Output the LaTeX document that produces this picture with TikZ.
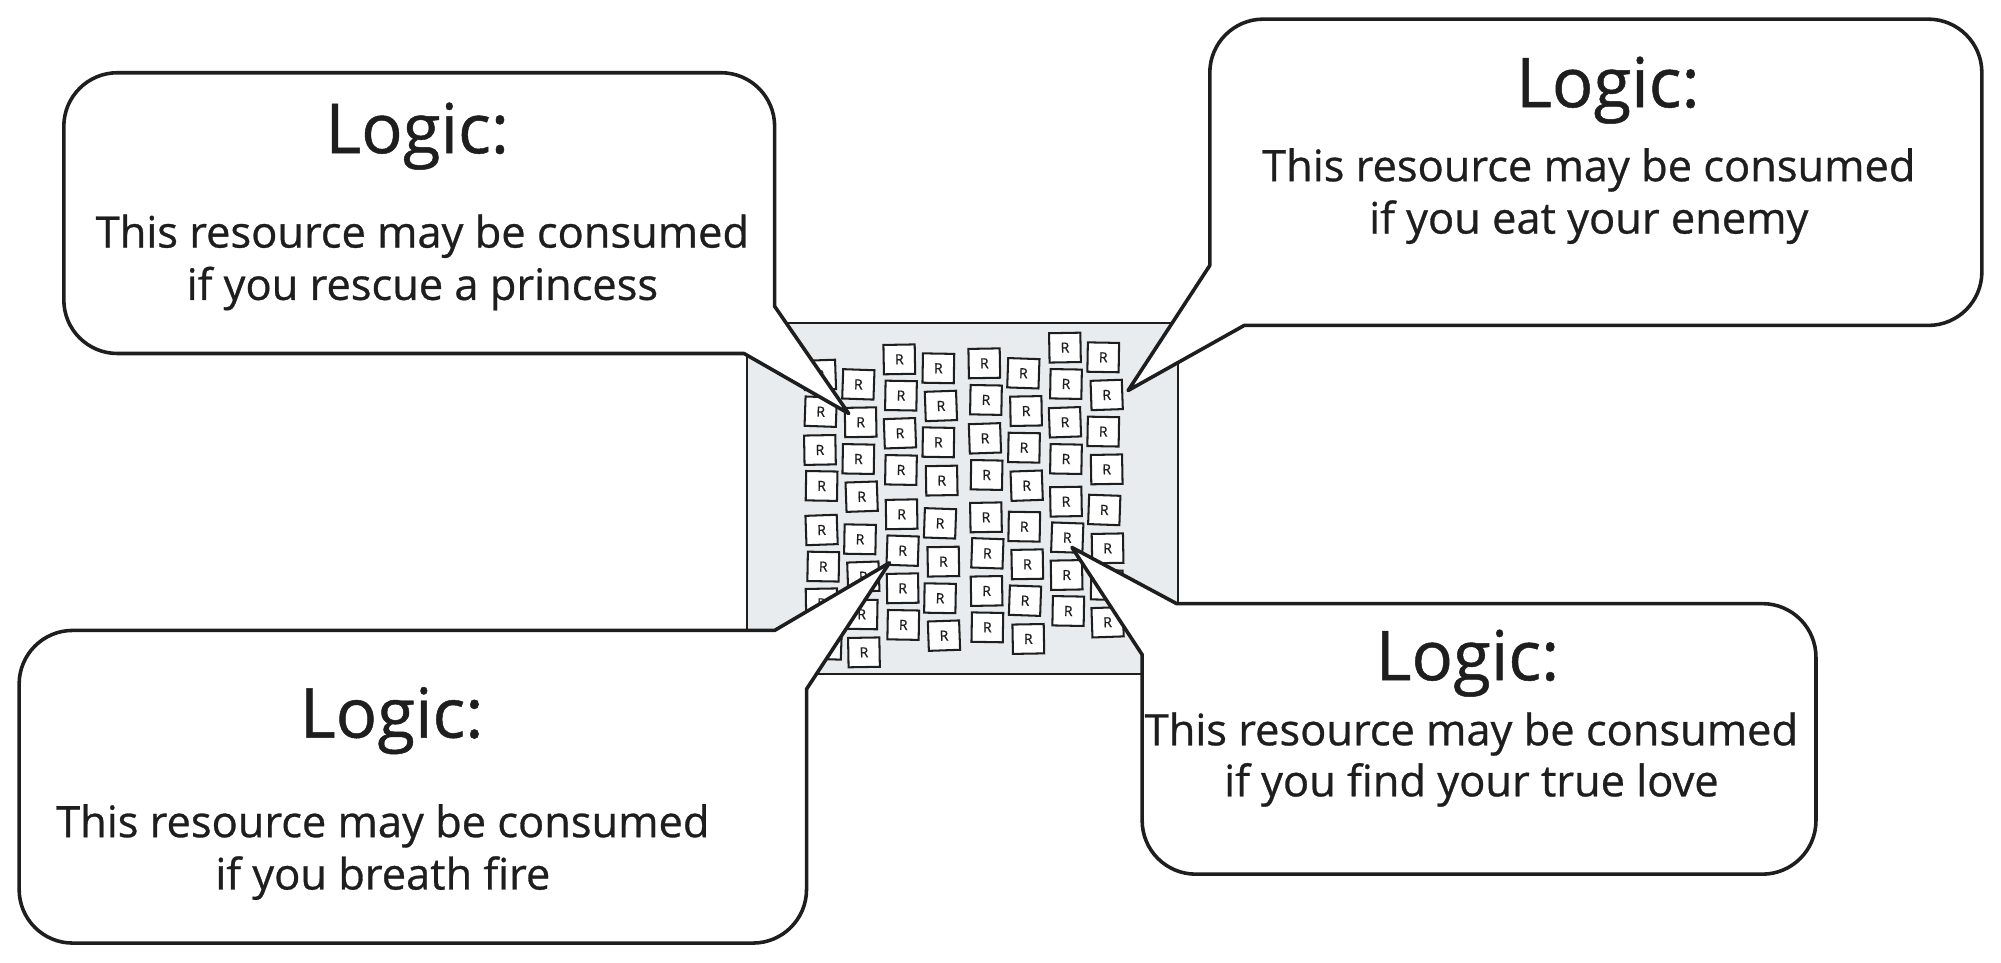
\documentclass[tikz,border=0pt]{standalone}
\usepackage{fontspec}
\setmainfont{Open Sans}[FakeBold=0.7]
\definecolor{ink}{HTML}{1E1E1E}
\definecolor{panel}{HTML}{E9ECEF}
\begin{document}
\begin{tikzpicture}[x=1pt,y=-1pt,
  bubble/.style={draw=ink, fill=white, line width=2.8pt, line join=round},
  rbox/.style={draw=ink, fill=white, line width=1.6pt, minimum width=24.5pt, minimum height=23pt, inner sep=0pt, text=ink, font=\fontsize{11}{11}\selectfont},
  title/.style={font=\fontsize{54}{54}\selectfont, text=ink, anchor=base},
  body/.style={font=\fontsize{34}{34}\selectfont, text=ink, anchor=base}]
\useasboundingbox (0,0) rectangle (1568,754);

% central panel
\draw[fill=panel, draw=ink, line width=1.6pt] (585,253) rectangle (923,528);

% resource boxes
\foreach \x/\y/\a [count=\i] in {
 642.5/293.8/2, 643.1/322.6/-2, 642.5/352.6/1, 643.8/380.8/-1, 643.8/415.3/2, 645.1/444.0/-1, 643.8/472.8/1, 647/505/-2,
 672.6/301.2/-2, 674.4/330.9/1, 672.6/359.7/-1, 675.2/389.2/2, 673.9/422.6/-1, 676.5/451.9/2, 675.2/481.4/-1, 677.0/511.2/1,
 704.7/281.6/1, 706.0/310.0/-1, 705.2/339.5/2, 706.0/368.3/-1, 706.5/403.0/1, 707.3/431.5/-2, 707.3/461.0/1, 707.8/489.7/-1,
 735.3/288.6/-1, 737.3/318.1/2, 735.3/346.6/-1, 737.9/376.6/1, 736.6/410.1/-2, 739.2/440.1/1, 736.6/468.8/-1, 739.7/498.1/2,
 771.3/284.7/1, 772.6/313.4/-1, 771.8/343.5/2, 773.1/372.2/-1, 772.6/405.4/1, 773.7/433.6/-2, 773.1/463.1/1, 773.7/491.6/-1,
 801.9/292.5/-2, 804.0/322.1/1, 802.4/350.8/-1, 804.5/380.6/2, 802.6/412.7/-1, 805.0/442.2/1, 803.2/470.7/-2, 805.8/500.7/1,
 834.5/272.4/1, 835.3/300.9/-1, 834.5/330.9/2, 835.3/359.7/-1, 835.3/393.1/1, 836.3/421.3/-2, 835.8/450.6/1, 837.1/478.8/-1,
 864.5/280.0/-1, 867.2/309.5/2, 864.5/338.2/-1, 867.2/367.8/1, 865.3/399.6/-2, 867.9/429.7/1, 867.2/458.4/-1, 867.9/487.6/2}
 \node[rbox, rotate=\a] (r\i) at (\x,\y) {R};

% tail tips
\coordinate (tipTL) at (665,324);
\coordinate (tipTR) at (884,306);
\coordinate (tipBL) at (697,441);
\coordinate (tipBR) at (840,429);

% top-left bubble
\draw[bubble] (607,240) -- (607,99) arc(0:-90:42) -- (92,57) arc(-90:-180:42)
  -- (50,235) arc(180:90:42) -- (583,277) -- (tipTL) -- cycle;
% top-right bubble
\draw[bubble] (975,255) -- (1511,255) arc(90:0:42) -- (1553,57) arc(0:-90:42)
  -- (990,15) arc(-90:-180:42) -- (948,208) -- (tipTR) -- cycle;
% bottom-left bubble
\draw[bubble] (607,494) -- (57,494) arc(-90:-180:42) -- (15,697) arc(180:90:42)
  -- (590,739) arc(90:0:42) -- (632,540) -- (tipBL) -- cycle;
% bottom-right bubble
\draw[bubble] (922,473) -- (1381,473) arc(-90:0:42) -- (1423,643) arc(0:90:42)
  -- (937,685) arc(90:180:42) -- (895,513) -- (tipBR) -- cycle;

% texts
\node[title] (tl0) at (327,120) {Logic:};
\node[body]  (tl1) at (331,194) {This resource may be consumed};
\node[body]  (tl2) at (331,235) {if you rescue a princess};

\node[title] (tr0) at (1260,84) {Logic:};
\node[body]  (tr1) at (1245,142) {This resource may be consumed};
\node[body]  (tr2) at (1245,183) {if you eat your enemy};

\node[title] (bl0) at (307,578) {Logic:};
\node[body]  (bl1) at (300,656) {This resource may be consumed};
\node[body]  (bl2) at (300,697) {if you breath fire};

\node[title] (br0) at (1150,533) {Logic:};
\node[body]  (br1) at (1153,584) {This resource may be consumed};
\node[body]  (br2) at (1153,624) {if you find your true love};
\end{tikzpicture}
\end{document}
